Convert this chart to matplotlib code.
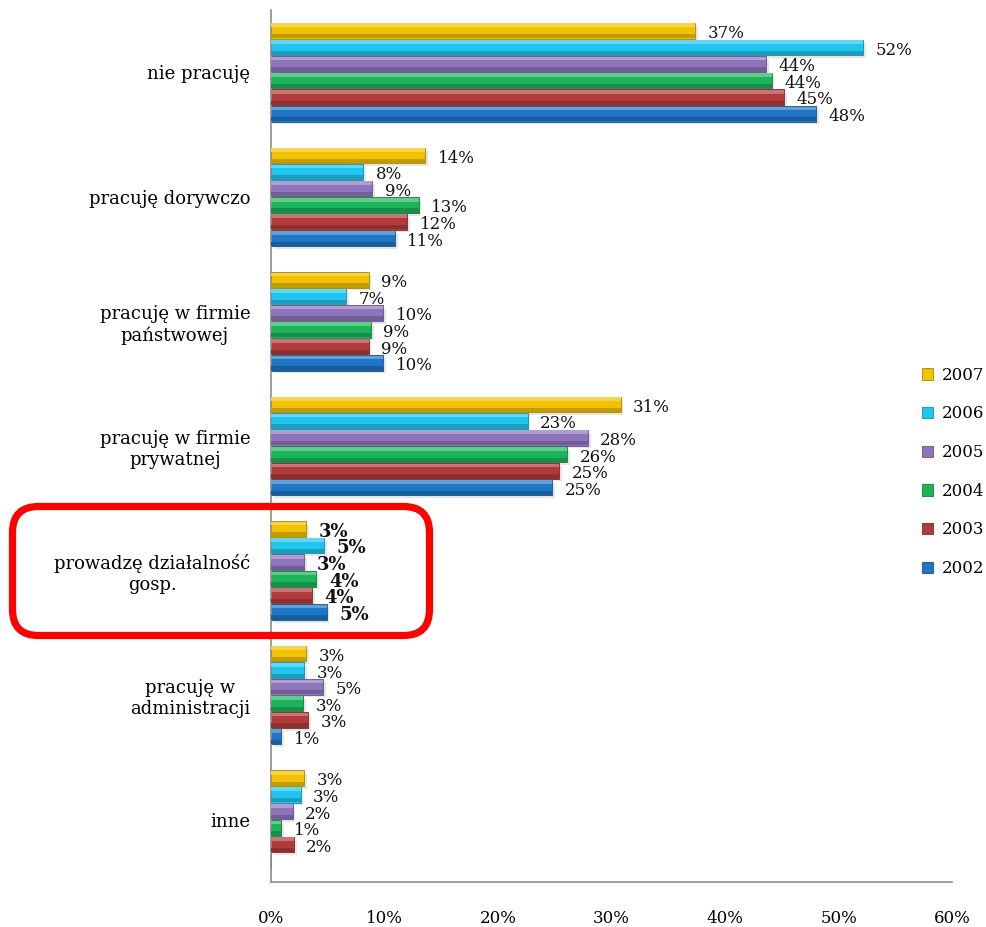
import numpy as np
import matplotlib
matplotlib.use('Agg')
import matplotlib.pyplot as plt
from matplotlib.patches import Patch, FancyBboxPatch
from matplotlib.transforms import IdentityTransform
import matplotlib.colors as mcolors

categories = ['nie pracuję', 'pracuję dorywczo', 'pracuję w firmie\npaństwowej',
              'pracuję w firmie\nprywatnej', 'prowadzę działalność\ngosp.',
              'pracuję w\nadministracji', 'inne']
years = ['2007', '2006', '2005', '2004', '2003', '2002']
v2007 = [37.4, 13.6, 8.6, 30.8, 3.1, 3.1, 2.9]
v2006 = [52.2, 8.1, 6.6, 22.6, 4.7, 2.9, 2.6]
v2005 = [43.6, 8.9, 9.9, 27.9, 2.9, 4.6, 1.9]
v2004 = [44.1, 13.0, 8.8, 26.1, 4.0, 2.8, 0.9]
v2003 = [45.2, 12.0, 8.6, 25.4, 3.6, 3.3, 2.0]
v2002 = [48.0, 10.9, 9.9, 24.8, 4.9, 0.9, np.nan]
xticks = [0, 10, 20, 30, 40, 50, 60]
xtick_labels = ['0%', '10%', '20%', '30%', '40%', '50%', '60%']

series = [v2007, v2006, v2005, v2004, v2003, v2002]
colors = ['#F2C200', '#1FC6F0', '#8E74BC', '#1CB45A', '#B23A3A', '#1E76C6']

FONT = 'DejaVu Serif'
plt.rcParams['font.family'] = [FONT, 'DejaVu Sans']

W, H = 987, 927
fig = plt.figure(figsize=(W / 100, H / 100), dpi=100)
ax = fig.add_axes([271 / W, 1 - 882 / H, (952 - 271) / W, (882 - 10) / H])

n_cat = len(categories)
n_ser = len(series)
h = 0.8 / n_ser
y_base = np.arange(n_cat)


def shade(c, f):
    r, g, b = mcolors.to_rgb(c)
    if f >= 0:
        return (r + (1 - r) * f, g + (1 - g) * f, b + (1 - b) * f)
    return (r * (1 + f), g * (1 + f), b * (1 + f))


for j, (vals, col) in enumerate(zip(series, colors)):
    vals = np.array(vals, dtype=float)
    w = np.nan_to_num(vals)
    yc = y_base - 0.4 + (j + 0.5) * h
    # shadow
    ax.barh(yc + h * 0.18, w, height=h * 0.9, left=0.25, color='#000000', alpha=0.10,
            zorder=1, linewidth=0)
    # main body
    ax.barh(yc, w, height=h * 0.94, color=col, edgecolor=shade(col, -0.3),
            linewidth=0.6, zorder=2)
    # top highlight
    ax.barh(yc - h * 0.47 + h * 0.14, w, height=h * 0.22,
            color=shade(col, 0.3), linewidth=0, zorder=3)
    # bottom darker band
    ax.barh(yc + h * 0.47 - h * 0.14, w, height=h * 0.26,
            color=shade(col, -0.2), linewidth=0, zorder=3)
    for i, v in enumerate(vals):
        if np.isnan(v):
            continue
        bold = (i == 4)
        ax.annotate(f'{v:.0f}%', xy=(v, yc[i]), xytext=(9, -2), textcoords='offset points',
                    ha='left', va='center', fontsize=13 if bold else 12,
                    fontweight='bold' if bold else 'normal', color='#111111', zorder=5)

ax.set_xlim(0, 60)
ax.set_ylim(n_cat - 0.5, -0.5)
ax.set_xticks(xticks)
ax.set_xticklabels(xtick_labels)
ax.set_yticks(y_base)
ax.set_yticklabels(categories)
for t in ax.get_yticklabels():
    t.set_multialignment('center')
ax.tick_params(axis='x', length=0, pad=20, labelsize=12)
ax.tick_params(axis='y', length=0, pad=15, labelsize=13)
for s in ['top', 'right']:
    ax.spines[s].set_visible(False)
for s in ['left', 'bottom']:
    ax.spines[s].set_color('#8c8c8c')
    ax.spines[s].set_linewidth(1.2)

handles = [Patch(facecolor=c, edgecolor=shade(c, -0.3), linewidth=0.6) for c in colors]
fig.legend(handles, years, loc='center left', bbox_to_anchor=(914 / W, 1 - 472 / H),
           frameon=False, fontsize=12, handlelength=0.65, handleheight=0.65,
           handletextpad=0.5, labelspacing=1.3, borderpad=0)

box = FancyBboxPatch((12.5, H - 635.5), 417, 129,
                     boxstyle='round,pad=0,rounding_size=26',
                     transform=IdentityTransform(), facecolor='none',
                     edgecolor='#FF0000', linewidth=5.2, zorder=10)
fig.patches.append(box)

fig.savefig('out.png', dpi=100)
